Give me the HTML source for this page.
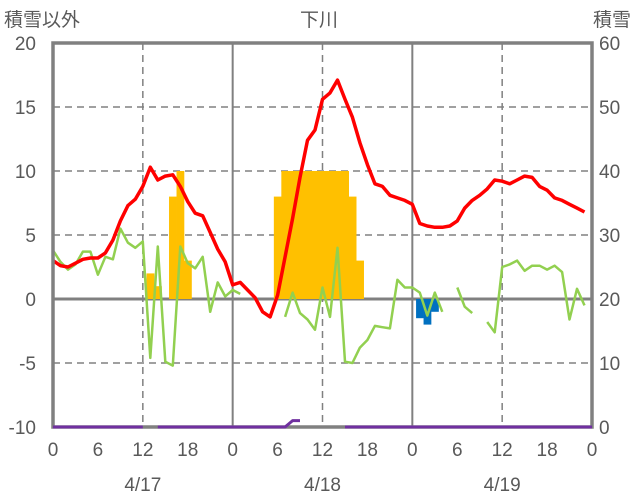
<!DOCTYPE html>
<html><head><meta charset="utf-8">
<style>
body{margin:0;background:#fff;}
svg{display:block;font-family:"Liberation Sans","Noto Sans CJK JP",sans-serif;}
text{fill:#595959;font-size:19px;}
</style></head>
<body>
<svg id="chart" width="636" height="501" viewBox="0 0 636 501" xmlns="http://www.w3.org/2000/svg">
<g id="grid"></g>
<g id="bars"></g>
<g id="lines"></g>
<g id="frame"></g>
<g id="labels">
<text x="4" y="26">積雪以外</text>
<text x="319" y="26" text-anchor="middle">下川</text>
<text x="631" y="26" text-anchor="end">積雪</text>
</g>
</svg>
<script>
const leftTicks=[20,15,10,5,0,-5,-10];
const rightTicks=[60,50,40,30,20,10,0];
const hourLabels=["0","6","12","18","0","6","12","18","0","6","12","18","0"];
const dateLabels=["4/17","4/18","4/19"];
const temperature=[3.0,2.6,2.5,2.8,3.1,3.2,3.2,3.6,4.6,6.1,7.3,7.8,8.8,10.3,9.3,9.6,9.7,8.8,7.6,6.7,6.5,5.2,3.9,2.9,1.1,1.3,0.7,0.1,-1.0,-1.4,0.3,3.3,6.3,9.5,12.4,13.2,15.6,16.1,17.1,15.6,14.2,12.2,10.5,9.0,8.8,8.1,7.9,7.7,7.4,5.9,5.7,5.6,5.6,5.7,6.1,7.1,7.7,8.1,8.6,9.3,9.2,9.0,9.3,9.6,9.5,8.8,8.5,7.9,7.7,7.4,7.1,6.8];
const greenSeries=[3.8,2.9,2.3,2.7,3.7,3.7,1.9,3.3,3.1,5.5,4.4,4.0,4.5,-4.6,4.1,-4.9,-5.2,4.1,2.8,2.4,3.3,-1.0,1.3,0.2,0.7,0.4,null,null,null,null,null,-1.4,0.5,-1.1,-1.6,-2.4,0.9,-1.4,4.0,-4.9,-5.0,-3.8,-3.2,-2.1,-2.2,-2.3,1.5,0.9,0.9,0.5,-1.3,0.5,-1.0,null,0.9,-0.6,-1.1,null,-1.8,-2.6,2.5,2.7,3.0,2.2,2.6,2.6,2.3,2.6,2.1,-1.6,0.8,-0.5];
const snowDepth=[0,0,0,0,0,0,0,0,0,0,0,0,0,null,0,0,0,0,0,0,0,0,0,0,0,0,0,0,0,0,0,0,1,1,null,null,null,null,null,0,0,0,0,0,0,0,0,0,0,0,0,0,0,0,0,0,0,0,0,0,0,0,0,0,0,0,0,0,0,0,0,0,0];
const yellowHours=[13,14,16,17,18,30,31,32,33,34,35,36,37,38,39,40,41];
const yellowValues=[2,1,8,10,3,8,10,10,10,10,10,10,10,10,10,8,3];
const blueHours=[49,50,51];
const blueValues=[-1.5,-2.0,-1.0];

const X0=53,X1=592,Y0=43,Y1=427,NS="http://www.w3.org/2000/svg";
const xs=h=>X0+h*(X1-X0)/72;
const yl=v=>Y0+(20-v)*(Y1-Y0)/30;
const yr=v=>Y1-v*(Y1-Y0)/60;
function mk(tag,attrs,parent){const e=document.createElementNS(NS,tag);for(const k in attrs)e.setAttribute(k,attrs[k]);parent.appendChild(e);return e;}
const grid=document.getElementById('grid'),bars=document.getElementById('bars'),lines=document.getElementById('lines'),frame=document.getElementById('frame'),labels=document.getElementById('labels');

leftTicks.forEach((v,i)=>{
  if(v!==20&&v!==-10&&v!==0){const l=mk('line',{x1:X0,x2:X1,y1:yl(v),y2:yl(v),stroke:'#808080','stroke-width':1.5,'stroke-dasharray':'7,5'},grid);
  
  }
  const t=mk('text',{x:36,y:yl(v)+7,'text-anchor':'end'},labels);t.textContent=v;
  
  
});
rightTicks.forEach(v=>{
  const t=mk('text',{x:599,y:yr(v)+7},labels);t.textContent=v;
  
  
});
[12,24,36,48,60].forEach(h=>{
  const solid=h%24===0;
  const l=mk('line',{x1:xs(h),x2:xs(h),y1:Y0,y2:Y1,stroke:'#808080','stroke-width':solid?2:1.5,'stroke-dasharray':solid?'none':'7,5'},grid);
  
  
});
hourLabels.forEach((s,i)=>{
  const t=mk('text',{x:xs(i*6),y:456,'text-anchor':'middle'},labels);t.textContent=s;
  
  
});
dateLabels.forEach((s,i)=>{
  const t=mk('text',{x:xs(12+24*i),y:491,'text-anchor':'middle'},labels);t.textContent=s;
  
  
});
const bw=(X1-X0)/72;
yellowHours.forEach((h,i)=>{
  const v=yellowValues[i];
  const r=mk('rect',{x:xs(h)-bw/2,y:yl(v),width:bw+0.3,height:yl(0)-yl(v),fill:'#FFC000'},bars);
  
  
});
blueHours.forEach((h,i)=>{
  const v=blueValues[i];
  const r=mk('rect',{x:xs(h)-bw/2,y:yl(0),width:bw+0.3,height:yl(v)-yl(0),fill:'#0070C0'},bars);
  
  
});
function pathOf(arr,yf){let d='',pen=false;arr.forEach((v,i)=>{if(v===null){pen=false;return;}d+=(pen?'L':'M')+xs(i).toFixed(1)+','+yf(v).toFixed(1);pen=true;});return d;}
// zero line
const z=mk('line',{x1:X0,x2:X1,y1:yl(0),y2:yl(0),stroke:'#808080','stroke-width':3},grid);


const fr=mk('rect',{x:X0,y:Y0,width:X1-X0,height:Y1-Y0,fill:'none',stroke:'#808080','stroke-width':3.5},frame);


const g=mk('path',{d:pathOf(greenSeries,yl),fill:'none',stroke:'#92D050','stroke-width':2.5,'stroke-linejoin':'round'},lines);


const r=mk('path',{d:pathOf(temperature,yl),fill:'none',stroke:'#FF0000','stroke-width':3.5,'stroke-linejoin':'round'},lines);


const p=mk('path',{d:pathOf(snowDepth,yr),fill:'none',stroke:'#7030A0','stroke-width':3,'stroke-linejoin':'round'},frame);


</script>
</body></html>
